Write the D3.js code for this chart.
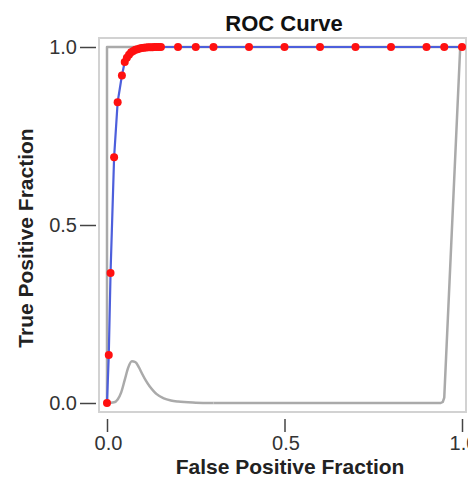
<!DOCTYPE html>
<html><head><meta charset="utf-8">
<script src="https://cdn.jsdelivr.net/npm/d3@7"></script>
<style>body{margin:0;background:#fff}svg{display:block}</style>
</head><body>
<svg id="c" width="468" height="485"></svg>
<script>
const fpr = [0, 0.005, 0.01, 0.02, 0.03, 0.042, 0.05, 0.056, 0.062, 0.068, 0.074, 0.08, 0.086, 0.092, 0.098, 0.104, 0.11, 0.116, 0.122, 0.128, 0.134, 0.14, 0.146, 0.152, 0.2, 0.25, 0.3, 0.4, 0.5, 0.6, 0.7, 0.8, 0.9, 0.95, 1.0];
const tpr = [0, 0.135, 0.365, 0.69, 0.845, 0.92, 0.958, 0.97, 0.978, 0.985, 0.989, 0.992, 0.994, 0.996, 0.997, 0.998, 0.9985, 0.999, 0.9993, 0.9995, 0.9997, 0.9998, 0.9999, 1, 1, 1, 1, 1, 1, 1, 1, 1, 1, 1, 1];
const refX = [0, 0, 0.995];
const refY = [0, 1, 1];
const bumpX = [0, 0.02, 0.03, 0.04, 0.05, 0.06, 0.07, 0.08, 0.09, 0.1, 0.11, 0.12, 0.13, 0.14, 0.16, 0.18, 0.2, 0.25, 0.3];
const bumpY = [0, 0.002, 0.01, 0.03, 0.065, 0.1, 0.117, 0.115, 0.1, 0.08, 0.062, 0.047, 0.035, 0.025, 0.013, 0.007, 0.004, 0.001, 0];
const tailX = [0.3, 0.94, 0.946, 0.95, 0.995];
const tailY = [0, 0, 0.003, 0.015, 1];
const xTicks = [0, 0.5, 1.0];
const yTicks = [0, 0.5, 1.0];

const svg = d3.select("#c");
const x = d3.scaleLinear().domain([0, 1]).range([107, 462]);
const y = d3.scaleLinear().domain([0, 1]).range([403, 47]);

// frame
svg.append("rect").attr("x", 99).attr("y", 38).attr("width", 367).attr("height", 374)
  .attr("fill", "none").attr("stroke", "#d2d2d2").attr("stroke-width", 2);

// title
svg.append("text").attr("x", 284).attr("y", 31).attr("text-anchor", "middle")
  .attr("font-family", "Liberation Sans, Arial, sans-serif").attr("font-weight", "bold")
  .attr("font-size", 22).attr("fill", "#111").text("ROC Curve");

// axes
const yAxis = svg.append("g").attr("transform", "translate(96,0)")
  .call(d3.axisLeft(y).tickValues(yTicks).tickFormat(d3.format(".1f")).tickSize(16).tickPadding(3));
const xAxis = svg.append("g").attr("transform", "translate(0,419)")
  .call(d3.axisBottom(x).tickValues(xTicks).tickFormat(d3.format(".1f")).tickSize(13).tickPadding(4));
[xAxis, yAxis].forEach(g => {
  g.select(".domain").remove();
  g.selectAll("line").attr("stroke", "#444").attr("stroke-width", 1.5);
  g.selectAll("text").attr("font-family", "Liberation Sans, Arial, sans-serif")
    .attr("font-size", 20).attr("fill", "#333");
});
xAxis.selectAll("text").attr("dx", 1);

// axis titles
svg.append("text").attr("x", 290).attr("y", 474).attr("text-anchor", "middle")
  .attr("font-family", "Liberation Sans, Arial, sans-serif").attr("font-weight", "bold")
  .attr("font-size", 21).attr("fill", "#222").text("False Positive Fraction");
svg.append("text").attr("transform", "translate(33,238) rotate(-90)").attr("text-anchor", "middle")
  .attr("font-family", "Liberation Sans, Arial, sans-serif").attr("font-weight", "bold")
  .attr("font-size", 21).attr("fill", "#222").text("True Positive Fraction");

// gray curves
const lin = d3.line().x(d => x(d[0])).y(d => y(d[1]));
const grayStyle = p => p.attr("fill", "none").attr("stroke", "#aaa").attr("stroke-width", 2.5)
  .attr("stroke-linejoin", "round");
svg.append("path").datum(refX.map((v, i) => [v, refY[i]])).attr("d", lin).call(grayStyle);
const smooth = d3.line().x(d => x(d[0])).y(d => y(d[1])).curve(d3.curveMonotoneX);
svg.append("path").datum(bumpX.map((v, i) => [v, bumpY[i]])).attr("d", smooth).call(grayStyle);
svg.append("path").datum(tailX.map((v, i) => [v, tailY[i]])).attr("d", lin).call(grayStyle);

// ROC curve
const pts = fpr.map((v, i) => [v, tpr[i]]);
svg.append("path").datum(pts).attr("d", lin)
  .attr("fill", "none").attr("stroke", "#4d5fdc").attr("stroke-width", 2.2);
svg.selectAll("circle.p").data(pts).enter().append("circle")
  .attr("cx", d => x(d[0])).attr("cy", d => y(d[1])).attr("r", 4)
  .attr("fill", "#ff1010");
</script>
</body></html>
